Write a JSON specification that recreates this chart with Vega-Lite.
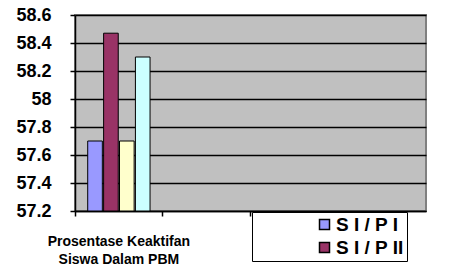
{
  "$schema": "https://vega.github.io/schema/vega-lite/v6.json",
  "width": 351,
  "height": 196,
  "autosize": {"type": "none"},
  "padding": {"left": 75, "top": 15, "right": 45, "bottom": 59},
  "background": "white",
  "config": {
    "font": "Liberation Sans",
    "view": {"fill": "#C0C0C0", "stroke": "#808080", "strokeWidth": 2}
  },
  "data": {
    "values": [
      {"kategori": "Prosentase Keaktifan|Siswa Dalam PBM", "seri": "S I / P I", "nilai": 57.7},
      {"kategori": "Prosentase Keaktifan|Siswa Dalam PBM", "seri": "S I / P II", "nilai": 58.47},
      {"kategori": "Prosentase Keaktifan|Siswa Dalam PBM", "seri": "S II / P I", "nilai": 57.7},
      {"kategori": "Prosentase Keaktifan|Siswa Dalam PBM", "seri": "S II / P II", "nilai": 58.3}
    ]
  },
  "mark": {"type": "bar", "stroke": "black", "strokeWidth": 1},
  "encoding": {
    "x": {
      "field": "kategori",
      "type": "nominal",
      "scale": {"domain": ["Prosentase Keaktifan|Siswa Dalam PBM", " ", "  ", "   "], "paddingInner": 0, "paddingOuter": 0},
      "axis": {
        "title": null,
        "labelAngle": 0,
        "labelExpr": "split(datum.label, '|')",
        "labelFontSize": 14,
        "labelFontWeight": "bold",
        "labelColor": "black",
        "labelPadding": 18,
        "labelLineHeight": 18,
        "bandPosition": 0,
        "tickColor": "black",
        "tickSize": 5,
        "tickWidth": 1.5,
        "domainColor": "black",
        "domainWidth": 1.5
      }
    },
    "xOffset": {
      "field": "seri",
      "type": "nominal",
      "scale": {"domain": ["S I / P I", "S I / P II", "S II / P I", "S II / P II"], "paddingOuter": 0.8, "paddingInner": 0.08}
    },
    "y": {
      "field": "nilai",
      "type": "quantitative",
      "scale": {"domain": [57.2, 58.6], "zero": false, "nice": false},
      "axis": {
        "title": null,
        "values": [57.2, 57.4, 57.6, 57.8, 58, 58.2, 58.4, 58.6],
        "format": "~f",
        "labelFontSize": 18,
        "labelFontWeight": "bold",
        "labelColor": "black",
        "labelPadding": 19,
        "tickColor": "black",
        "tickSize": 5,
        "tickWidth": 1.5,
        "domainColor": "black",
        "domainWidth": 1.5,
        "gridColor": "black",
        "gridWidth": 1.5
      }
    },
    "y2": {"datum": 57.2},
    "color": {
      "field": "seri",
      "type": "nominal",
      "scale": {
        "domain": ["S I / P I", "S I / P II", "S II / P I", "S II / P II"],
        "range": ["#9999FF", "#993366", "#FFFFCC", "#CCFFFF"]
      },
      "legend": {
        "title": "\u00a0\u00a0\u00a0\u00a0\u00a0\u00a0\u00a0\u00a0\u00a0\u00a0\u00a0\u00a0\u00a0\u00a0\u00a0\u00a0\u00a0\u00a0\u00a0\u00a0\u00a0\u00a0\u00a0\u00a0\u00a0\u00a0\u00a0\u00a0\u00a0\u00a0",
        "titleOrient": "right",
        "titleFontSize": 14,
        "titlePadding": 0,
        "orient": "none",
        "legendX": 177,
        "legendY": 197,
        "values": ["S I / P I", "S I / P II"],
        "strokeColor": "black",
        "fillColor": "white",
        "padding": 3,
        "symbolOffset": 60,
        "symbolType": "square",
        "symbolSize": 100,
        "symbolStrokeColor": "black",
        "symbolStrokeWidth": 1.5,
        "labelFontSize": 19,
        "labelFontWeight": "bold",
        "labelColor": "black",
        "labelOffset": 2,
        "rowPadding": 3,
        "labelLimit": 300
      }
    }
  }
}
